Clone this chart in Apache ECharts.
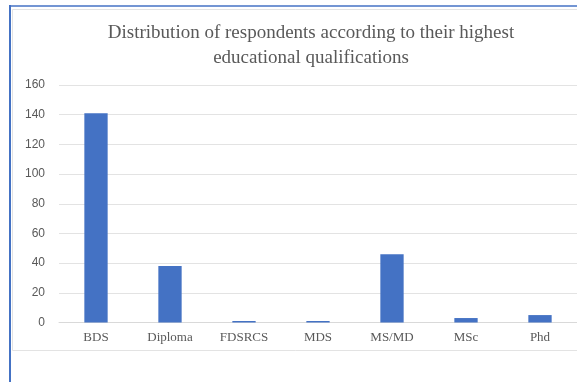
<!DOCTYPE html>
<html>
<head>
<meta charset="utf-8">
<script src="https://cdn.jsdelivr.net/npm/echarts@6/dist/echarts.min.js"></script>
<style>
html,body{margin:0;padding:0;background:#fff;}
#chart{width:577px;height:382px;}
</style>
</head>
<body>
<div id="chart"></div>
<script>
var categories = ['BDS', 'Diploma', 'FDSRCS', 'MDS', 'MS/MD', 'MSc', 'Phd'];
var counts = [141, 38, 1, 1, 46, 3, 5];
var yTicks = { min: 0, max: 160, interval: 20 };
var titleText = 'Distribution of respondents according to their highest\neducational qualifications';

var chart = echarts.init(document.getElementById('chart'), null, { renderer: 'canvas' });
chart.setOption({
  animation: false,
  backgroundColor: '#ffffff',
  title: {
    text: titleText,
    left: 306,
    top: 16,
    textAlign: 'center',
    textStyle: {
      fontFamily: 'Liberation Serif',
      fontSize: 19,
      fontWeight: 'normal',
      color: '#595959',
      lineHeight: 25
    }
  },
  graphic: [
    { type: 'rect', shape: { x: 12.5, y: 9.5, width: 620, height: 341 },
      style: { fill: 'none', stroke: '#e3e3e3', lineWidth: 1 }, z: -1 },
    { type: 'line', shape: { x1: 10, y1: 5, x2: 10, y2: 382 },
      style: { stroke: '#4472c4', lineWidth: 2 } },
    { type: 'line', shape: { x1: 9, y1: 6, x2: 577, y2: 6 },
      style: { stroke: '#4472c4', lineWidth: 1.5 } }
  ],
  grid: { left: 59, top: 85, width: 533, height: 237.5, containLabel: false },
  xAxis: {
    type: 'category',
    data: categories,
    axisLine: { show: true, lineStyle: { color: '#d9d9d9', width: 1 } },
    axisTick: { show: false },
    axisLabel: {
      margin: 9,
      fontFamily: 'Liberation Serif',
      fontSize: 13,
      color: '#595959',
      interval: 0
    }
  },
  yAxis: {
    type: 'value',
    min: yTicks.min,
    max: yTicks.max,
    interval: yTicks.interval,
    axisLine: { show: false },
    axisTick: { show: false },
    splitLine: { lineStyle: { color: '#e3e3e3', width: 1 } },
    axisLabel: {
      margin: 14,
      fontFamily: 'Liberation Sans',
      fontSize: 12,
      color: '#595959'
    }
  },
  series: [{
    type: 'bar',
    data: counts,
    barWidth: '31.5%',
    itemStyle: { color: '#4472c4' }
  }]
});
</script>
</body>
</html>
